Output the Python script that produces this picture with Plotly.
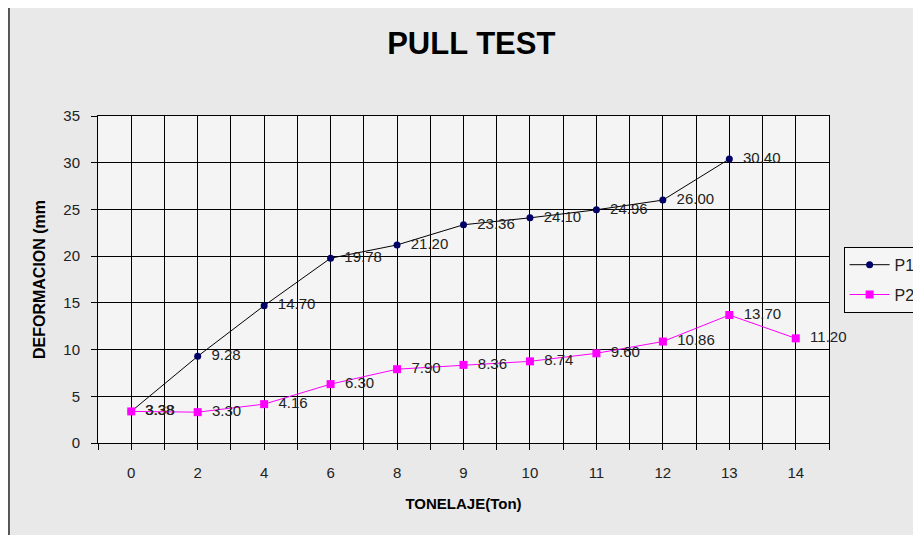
import plotly.graph_objects as go

categories = ["0", "2", "4", "6", "8", "9", "10", "11", "12", "13", "14"]
p1_values = [3.38, 9.28, 14.70, 19.78, 21.20, 23.36, 24.10, 24.96, 26.00, 30.40, None]
p2_values = [3.38, 3.30, 4.16, 6.30, 7.90, 8.36, 8.74, 9.60, 10.86, 13.70, 11.20]
y_ticks = [0, 5, 10, 15, 20, 25, 30, 35]

xpos = list(range(len(categories)))

def fmt(v):
    return "" if v is None else f"  {v:.2f}"

lab_font = dict(family="Arial, Liberation Sans", size=15, color="#222222")

fig = go.Figure()
fig.add_trace(go.Scatter(
    x=xpos, y=p1_values, name="P1", mode="lines+markers+text", legendgroup="a",
    line=dict(color="#000000", width=1),
    marker=dict(symbol="circle", size=7, color="#000066"),
    text=[fmt(v) for v in p1_values], textposition="middle right",
    textfont=lab_font, cliponaxis=False,
))
fig.add_trace(go.Scatter(
    x=xpos, y=p2_values, name="P2", mode="lines+markers+text", legendgroup="b",
    line=dict(color="#ff00ff", width=1),
    marker=dict(symbol="square", size=8, color="#ff00ff"),
    text=[fmt(v) for v in p2_values], textposition="middle right",
    textfont=lab_font, cliponaxis=False,
))

fig.update_layout(
    width=921, height=535,
    margin=dict(l=90, r=100, t=108, b=100, autoexpand=False),
    paper_bgcolor="#e9e9e9",
    plot_bgcolor="#f4f4f4",
    font=dict(family="Arial, Liberation Sans", color="#222222"),
    title=dict(text="<b>PULL TEST</b>", x=0.503, xanchor="center", y=0.935, yanchor="middle",
               font=dict(size=31, color="#000000")),
    showlegend=True,
    legend=dict(x=1.02, xanchor="left", y=0.6, yanchor="top",
                bgcolor="#f5f5f5", bordercolor="#000000", borderwidth=1,
                font=dict(size=16, color="#222222"), tracegroupgap=6, itemwidth=40),
    xaxis=dict(
        range=[-0.5, len(categories) - 0.5],
        tickmode="array", tickvals=xpos, ticktext=categories,
        showgrid=True, gridcolor="#000000", gridwidth=1,
        ticks="outside", ticklen=6, tickcolor="#000000",
        ticklabelstandoff=10,
        tickfont=dict(size=15, color="#222222"),
        showline=True, linecolor="#000000", mirror=True, zeroline=False,
        minor=dict(tickmode="array", tickvals=[i - 0.5 for i in range(len(categories) + 1)],
                   showgrid=True, gridcolor="#000000", gridwidth=1,
                   ticks="outside", ticklen=6, tickcolor="#000000"),
        title=dict(text="<b>TONELAJE(Ton)</b>", font=dict(size=15, color="#000000"), standoff=18),
    ),
    yaxis=dict(
        range=[0, 35], tickmode="array", tickvals=y_ticks,
        showgrid=True, gridcolor="#000000", gridwidth=1,
        ticks="outside", ticklen=6, tickcolor="#000000",
        ticklabelstandoff=8,
        tickfont=dict(size=15, color="#222222"),
        showline=True, linecolor="#000000", mirror=True, zeroline=False,
        title=dict(text="<b>DEFORMACION (mm</b>", font=dict(size=16, color="#000000"), standoff=13),
    ),
)

fig.add_shape(type="rect", xref="paper", yref="paper",
              x0=-0.1218, x1=1.14, y0=-0.45, y1=1.34,
              line=dict(color="#555555", width=2), layer="below")

fig.write_html("out.html")
